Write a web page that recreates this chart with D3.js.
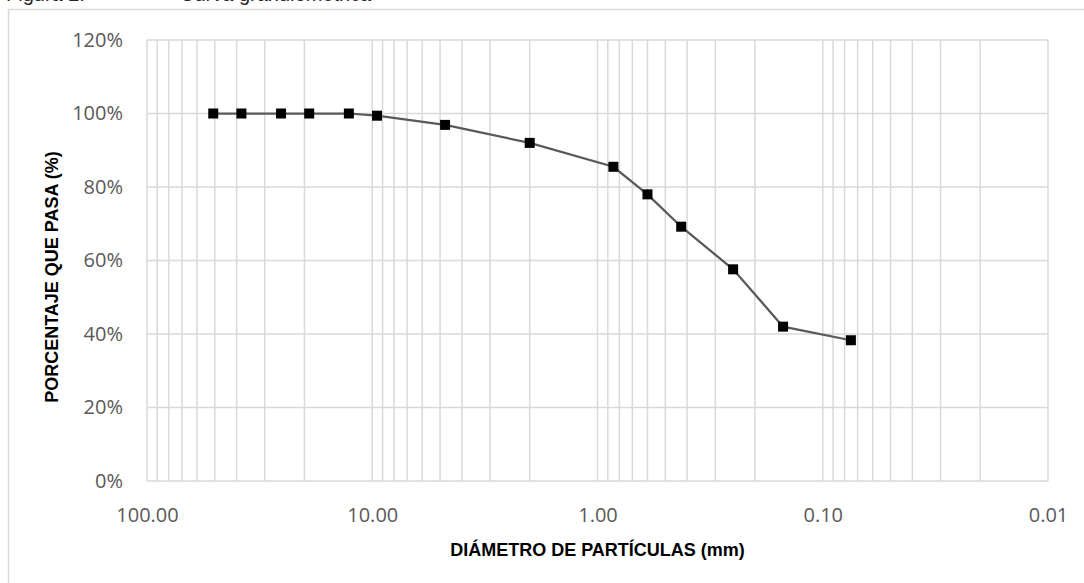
<!DOCTYPE html>
<html>
<head>
<meta charset="utf-8">
<script src="https://cdn.jsdelivr.net/npm/d3@7"></script>
<style>
  body { margin: 0; background: #fff; }
  svg { display: block; font-family: "Liberation Sans", Arial, sans-serif; }
</style>
</head>
<body>
<svg id="chart" width="1084" height="583"></svg>
<script>
// ---- Data ----
const diameters = [50.8, 38.1, 25.4, 19.05, 12.7, 9.525, 4.75, 2.0, 0.85, 0.6, 0.425, 0.25, 0.15, 0.075];
const passing   = [100, 100, 100, 100, 100, 99.4, 96.9, 92.0, 85.5, 78.0, 69.2, 57.6, 42.0, 38.3];
const yTicks = [0, 20, 40, 60, 80, 100, 120];
const xTicks = [100, 10, 1, 0.1, 0.01];

const svg = d3.select('#chart');
const margin = {top: 40, right: 36, bottom: 102, left: 147};
const width = +svg.attr('width');
const height = +svg.attr('height');

// ---- Frame & title (cut off at the top in the source) ----
svg.append('rect')
  .attr('x', 8.5).attr('y', 9.5)
  .attr('width', width).attr('height', height)
  .attr('fill', '#fff').attr('stroke', '#d9d9d9').attr('stroke-width', 1.5);

const title = svg.append('g')
  .attr('font-family', '"Liberation Sans", Arial, sans-serif')
  .attr('font-size', 20).attr('fill', '#262626');
title.append('text').attr('x', 6).attr('y', 1).text('Figura 2.');
title.append('text').attr('x', 180).attr('y', 1).text('Curva granulométrica');

// ---- Scales ----
const x = d3.scaleLog()
  .domain([100, 0.01])
  .range([margin.left, width - margin.right]);
const y = d3.scaleLinear()
  .domain([0, 120])
  .range([height - margin.bottom, margin.top]);

// ---- Grid ----
const grid = svg.append('g').attr('stroke', '#d9d9d9').attr('stroke-width', 1.5);

// vertical lines at every 1..9 step of each decade
const logTicks = [];
[0.01, 0.1, 1, 10].forEach(dec => d3.range(1, 10).forEach(m => logTicks.push(dec * m)));
logTicks.push(100);

grid.selectAll('line.v')
  .data(logTicks)
  .join('line')
  .attr('class', 'v')
  .attr('x1', d => x(d)).attr('x2', d => x(d))
  .attr('y1', y(120)).attr('y2', y(0));

grid.selectAll('line.h')
  .data(yTicks)
  .join('line')
  .attr('class', 'h')
  .attr('x1', x(100)).attr('x2', x(0.01))
  .attr('y1', d => y(d)).attr('y2', d => y(d));

// ---- Axes labels ----
const yAxis = d3.axisLeft(y).tickValues(yTicks).tickFormat(d => d + '%').tickSize(0).tickPadding(24);
svg.append('g')
  .attr('transform', `translate(${margin.left},0)`)
  .call(yAxis)
  .call(g => g.select('.domain').remove())
  .call(g => g.selectAll('text')
    .attr('font-family', '"Open Sans", "Liberation Sans", sans-serif')
    .attr('font-size', 20).attr('fill', '#595959'));

const xAxis = d3.axisBottom(x).tickValues(xTicks).tickFormat(d3.format('.2f')).tickSize(0).tickPadding(27);
svg.append('g')
  .attr('transform', `translate(0,${y(0)})`)
  .call(xAxis)
  .call(g => g.select('.domain').remove())
  .call(g => g.selectAll('text')
    .attr('font-family', '"Open Sans", "Liberation Sans", sans-serif')
    .attr('font-size', 20).attr('fill', '#595959'));

// ---- Axis titles ----
svg.append('text')
  .attr('x', (x(100) + x(0.01)) / 2)
  .attr('y', 556)
  .attr('text-anchor', 'middle')
  .attr('font-size', 18).attr('font-weight', 'bold').attr('fill', '#000')
  .text('DIÁMETRO DE PARTÍCULAS (mm)');

svg.append('text')
  .attr('transform', 'translate(58,277) rotate(-90)')
  .attr('text-anchor', 'middle')
  .attr('font-size', 18).attr('font-weight', 'bold').attr('fill', '#000')
  .text('PORCENTAJE QUE PASA (%)');

// ---- Series ----
const pts = diameters.map((d, i) => ({d, p: passing[i]}));

const line = d3.line()
  .x(d => x(d.d))
  .y(d => y(d.p));

svg.append('path')
  .datum(pts)
  .attr('fill', 'none')
  .attr('stroke', '#595959')
  .attr('stroke-width', 2.25)
  .attr('d', line);

const ms = 10;
svg.selectAll('rect.marker')
  .data(pts)
  .join('rect')
  .attr('class', 'marker')
  .attr('x', d => x(d.d) - ms / 2)
  .attr('y', d => y(d.p) - ms / 2)
  .attr('width', ms).attr('height', ms)
  .attr('fill', '#000');
</script>
</body>
</html>
